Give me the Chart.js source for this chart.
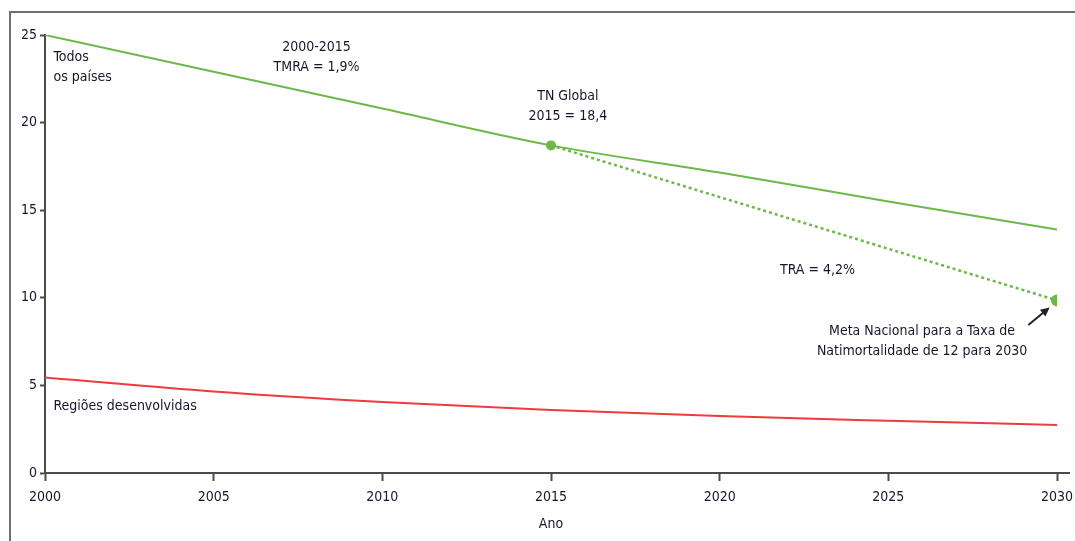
<!DOCTYPE html>
<html>
<head>
<meta charset="utf-8">
<title>Natimortalidade</title>
<script src="https://cdn.jsdelivr.net/npm/chart.js@4/dist/chart.umd.min.js"></script>
<style>
  html, body { margin: 0; padding: 0; background: #fff; }
  #wrap { width: 1075px; height: 541px; position: relative; }
</style>
</head>
<body>
<div id="wrap"><canvas id="chart"></canvas></div>
<script>
// anos e valores
const years = [2000, 2005, 2010, 2015, 2020, 2025, 2030];
const todosPaises = [25.0, 22.9, 20.8, 18.7, 17.15, 15.5, 13.9];
const regioesDesenvolvidas = [5.45, 4.65, 4.05, 3.6, 3.25, 2.98, 2.74];
const metaYears = [2015, 2030];
const metaValues = [18.7, 9.85];
const xTicks = [2000, 2005, 2010, 2015, 2020, 2025, 2030];
const yTicks = [0, 5, 10, 15, 20, 25];

const FONT = "'Liberation Sans Narrow', 'DejaVu Sans Condensed', 'Roboto Condensed', sans-serif";
const TEXT = "#16162c";
const GREEN = "#6cb84a";
const RED = "#ef3b3b";
const AXIS = "#4a4a4a";

// textos sobre o gráfico (posição em coordenadas dos dados)
const notes = [
    { x: 2000.25, y: 23.75, align: "left", lines: ["Todos", "os países"] },
    { x: 2008.05, y: 24.3, align: "center", lines: ["2000-2015", "TMRA = 1,9%"] },
    { x: 2015.5, y: 21.5, align: "center", lines: ["TN Global", "2015 = 18,4"] },
    { x: 2022.9, y: 11.55, align: "center", lines: ["TRA = 4,2%"] },
    { x: 2026.0, y: 8.1, align: "center", lines: ["Meta Nacional para a Taxa de", "Natimortalidade de 12 para 2030"] },
    { x: 2000.25, y: 3.82, align: "left", lines: ["Regiões desenvolvidas"] }
];

const toXY = (xs, ys) => xs.map((x, i) => ({ x: x, y: ys[i] }));

const extras = {
    id: "extras",
    beforeDraw(chart) {
        const ctx = chart.ctx;
        ctx.save();
        ctx.fillStyle = "#fff";
        ctx.fillRect(0, 0, chart.width, chart.height);
        // moldura
        ctx.strokeStyle = "#6e6e6e";
        ctx.lineWidth = 2;
        ctx.beginPath();
        ctx.moveTo(10, chart.height);
        ctx.lineTo(10, 12);
        ctx.lineTo(chart.width, 12);
        ctx.stroke();
        ctx.restore();
    },
    afterDraw(chart) {
        const ctx = chart.ctx;
        const xs = chart.scales.x, ys = chart.scales.y;
        const area = chart.chartArea;
        ctx.save();
        // prolongamento do eixo x
        ctx.strokeStyle = AXIS;
        ctx.lineWidth = 2;
        ctx.beginPath();
        ctx.moveTo(area.right, area.bottom);
        ctx.lineTo(area.right + 13, area.bottom);
        ctx.stroke();

        ctx.fillStyle = TEXT;
        ctx.font = "14px " + FONT;
        ctx.textBaseline = "middle";
        notes.forEach(n => {
            ctx.textAlign = n.align;
            const px = xs.getPixelForValue(n.x);
            const py = ys.getPixelForValue(n.y);
            n.lines.forEach((t, i) => ctx.fillText(t, px, py + i * 20));
        });

        // seta para a meta
        const x0 = xs.getPixelForValue(2029.15), y0 = ys.getPixelForValue(8.45);
        const x1 = xs.getPixelForValue(2029.78), y1 = ys.getPixelForValue(9.45);
        const ang = Math.atan2(y1 - y0, x1 - x0);
        ctx.strokeStyle = "#222";
        ctx.fillStyle = "#222";
        ctx.lineWidth = 2;
        ctx.beginPath();
        ctx.moveTo(x0, y0);
        ctx.lineTo(x1 - 6 * Math.cos(ang), y1 - 6 * Math.sin(ang));
        ctx.stroke();
        ctx.beginPath();
        ctx.moveTo(x1, y1);
        ctx.lineTo(x1 - 10 * Math.cos(ang - 0.45), y1 - 10 * Math.sin(ang - 0.45));
        ctx.lineTo(x1 - 10 * Math.cos(ang + 0.45), y1 - 10 * Math.sin(ang + 0.45));
        ctx.closePath();
        ctx.fill();
        ctx.restore();
    }
};

new Chart(document.getElementById("chart"), {
    type: "line",
    data: {
        datasets: [
            {
                label: "Todos os países",
                data: toXY(years, todosPaises),
                borderColor: GREEN,
                borderWidth: 2,
                pointRadius: 0,
                cubicInterpolationMode: "monotone"
            },
            {
                label: "Meta",
                data: toXY(metaYears, metaValues),
                borderColor: GREEN,
                backgroundColor: GREEN,
                borderWidth: 2.5,
                borderDash: [3, 3],
                pointRadius: [5, 6],
                pointBorderWidth: 0
            },
            {
                label: "Regiões desenvolvidas",
                data: toXY(years, regioesDesenvolvidas),
                borderColor: RED,
                borderWidth: 2,
                pointRadius: 0,
                cubicInterpolationMode: "monotone"
            }
        ]
    },
    options: {
        responsive: true,
        maintainAspectRatio: false,
        animation: false,
        layout: { padding: { left: 0, right: 18, top: 35, bottom: 8 } },
        plugins: {
            legend: { display: false },
            tooltip: { enabled: false }
        },
        scales: {
            x: {
                type: "linear",
                min: 2000,
                max: 2030,
                afterBuildTicks: s => { s.ticks = xTicks.map(v => ({ value: v })); },
                afterFit: s => { s.height = 60; s.paddingLeft = 0; s.paddingRight = 0; },
                border: { color: AXIS, width: 2 },
                grid: { drawOnChartArea: false, tickLength: 8, tickColor: AXIS, tickWidth: 2 },
                ticks: {
                    color: TEXT,
                    padding: 8,
                    maxRotation: 0,
                    font: { family: FONT, size: 14 },
                    callback: v => String(v)
                },
                title: {
                    display: true,
                    text: "Ano",
                    color: TEXT,
                    font: { family: FONT, size: 14 },
                    padding: { top: 4, bottom: 0 }
                }
            },
            y: {
                min: 0,
                max: 25,
                afterBuildTicks: s => { s.ticks = yTicks.map(v => ({ value: v })); },
                afterFit: s => { s.width = 45; s.paddingTop = 0; s.paddingBottom = 0; },
                border: { color: AXIS, width: 2 },
                grid: { drawOnChartArea: false, tickLength: 5, tickColor: AXIS, tickWidth: 2 },
                ticks: {
                    color: TEXT,
                    padding: 3,
                    font: { family: FONT, size: 14 }
                }
            }
        }
    },
    plugins: [extras]
});
</script>
</body>
</html>
